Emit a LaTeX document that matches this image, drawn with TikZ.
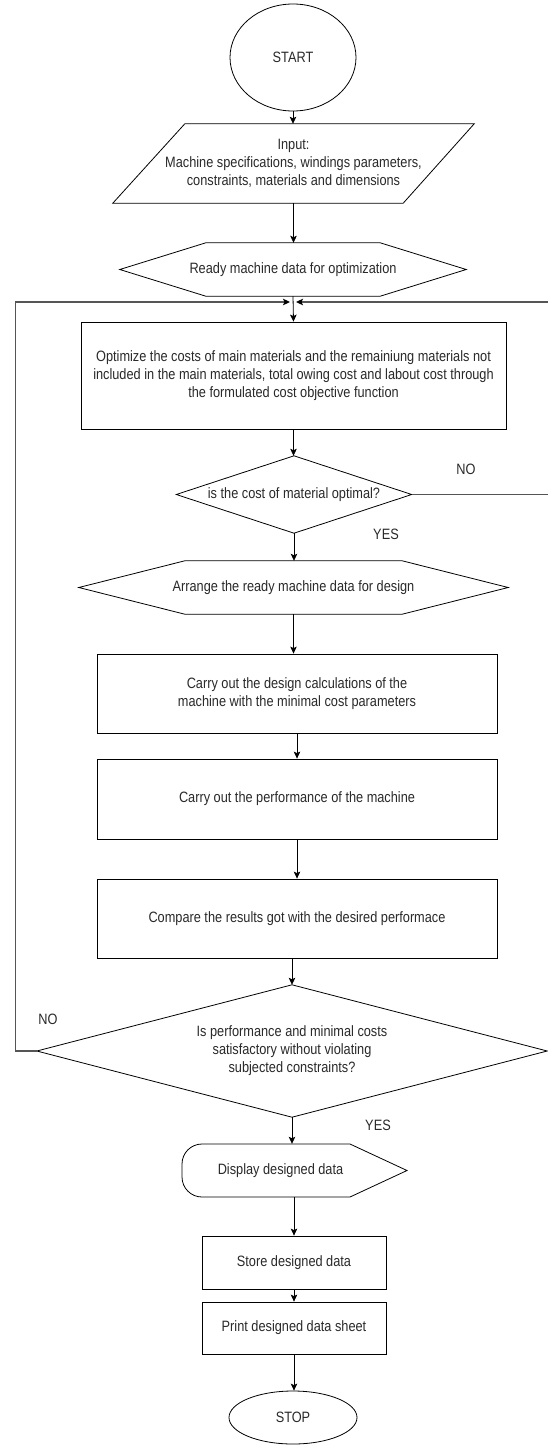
\documentclass[tikz,border=0pt]{standalone}
\usepackage{fontspec}
\setmainfont[FakeStretch=0.85]{Liberation Sans}
\usetikzlibrary{shapes.geometric,arrows.meta,calc}
\definecolor{txt}{HTML}{2A2A2A}
\definecolor{lp}{HTML}{555555}
\begin{document}
\begin{tikzpicture}[x=1pt,y=-1pt,
  every node/.style={font=\fontsize{15}{18}\selectfont, text=txt},
  box/.style={draw, rectangle, line width=0.8pt, inner sep=0pt, align=center},
  shp/.style={rectangle, inner sep=0pt, align=center},
  outl/.style={draw, line width=0.8pt},
  arr/.style={-{Stealth[length=7pt,width=6.5pt,inset=1.5pt]}, line width=0.8pt},
  looparr/.style={-{Stealth[length=7pt,width=6.5pt,inset=1.5pt,color=black]}, line width=1.3pt, draw=lp},
  lbl/.style={inner sep=0pt}]
\fill[white] (0,0) rectangle (547,1445);
\useasboundingbox (0,0) rectangle (547,1445);

% nodes
\node[ellipse, draw, line width=0.8pt, minimum width=126pt, minimum height=107pt, inner sep=0pt] (start) at (293,57.5) {START};
\node[shp, minimum width=361pt, minimum height=79pt] (inp) at (293.5,163.5) {Input:\\Machine specifications, windings parameters,\\constraints, materials and dimensions};
\draw[outl] ([xshift=72pt]inp.north west) -- (inp.north east) -- ([xshift=-71pt]inp.south east) -- (inp.south west) -- cycle;

\node[shp, minimum width=346pt, minimum height=53pt] (rdy) at (293,269.5) {Ready machine data for optimization};
\draw[outl] (rdy.west) -- ([xshift=86pt]rdy.north west) -- ([xshift=-86pt]rdy.north east) -- (rdy.east) -- ([xshift=-86pt]rdy.south east) -- ([xshift=86pt]rdy.south west) -- cycle;

\node[box, minimum width=425pt, minimum height=107pt] (opt) at (293.5,375.5) {Optimize the costs of main materials and the remainiung materials not\\included in the main materials, total owing cost and labout cost through\\the formulated cost objective function};

\node[shp, minimum width=235pt, minimum height=77pt] (d1) at (294,494.5) {is the cost of material optimal?};
\draw[outl] (d1.north) -- (d1.east) -- (d1.south) -- (d1.west) -- cycle;

\node[shp, minimum width=429pt, minimum height=53pt] (arrange) at (293.5,587.5) {Arrange the ready machine data for design};
\draw[outl] (arrange.west) -- ([xshift=106pt]arrange.north west) -- ([xshift=-106pt]arrange.north east) -- (arrange.east) -- ([xshift=-106pt]arrange.south east) -- ([xshift=106pt]arrange.south west) -- cycle;

\node[box, minimum width=400pt, minimum height=79pt] (des) at (297,693.5) {Carry out the design calculations of the\\machine with the minimal cost parameters};
\node[box, minimum width=400pt, minimum height=80pt] (perf) at (297,799) {Carry out the performance of the machine};
\node[box, minimum width=400pt, minimum height=79pt] (cmp) at (297,918.5) {Compare the results got with the desired performace};

\node[shp, minimum width=510pt, minimum height=132pt] (d2) at (292,1051) {Is performance and minimal costs\\satisfactory without violating\\subjected constraints?};
\draw[outl] (d2.north) -- (d2.east) -- (d2.south) -- (d2.west) -- cycle;

\node[shp, minimum height=53pt] (disp) at (280.5,1170.5) {Display designed data};
\draw[outl] ($(disp.center)+(69.5,-26.5)$) -- ($(disp.center)+(126.5,0)$) -- ($(disp.center)+(69.5,26.5)$) [rounded corners=20pt] -- ($(disp.center)+(-98.5,26.5)$) -- ($(disp.center)+(-98.5,-26.5)$) [sharp corners] -- cycle;

\node[box, minimum width=184pt, minimum height=53pt] (store) at (294,1262.5) {Store designed data};
\node[box, minimum width=184pt, minimum height=52pt] (print) at (294,1328) {Print designed data sheet};
\node[ellipse, draw, line width=0.8pt, minimum width=128pt, minimum height=53pt, inner sep=0pt] (stop) at (293,1417.5) {STOP};

% labels
\node[lbl] (no1) at (466,469) {NO};
\node[lbl] (yes1) at (386,534) {YES};
\node[lbl] (no2) at (48,1019) {NO};
\node[lbl] (yes2) at (378,1125) {YES};

% coordinates for loops
\coordinate (merge) at (293,302);
\coordinate (rc) at (549,302);
\coordinate (lc) at (15.5,302);

% connectors
\draw[arr] (start.south) -- (start.south |- inp.north);
\draw[arr] (inp.south) -- (inp.south |- rdy.north);
\draw[arr] (rdy.south) -- (opt.north);
\draw[arr] (opt.south) -- (opt.south |- d1.north);
\draw[arr] (d1.south) -- (d1.south |- arrange.north);
\draw[arr] (arrange.south) -- (arrange.south |- des.north);
\draw[arr] (des.south) -- (perf.north);
\draw[arr] (perf.south) -- (cmp.north);
\draw[arr] (d2.north |- cmp.south) -- (d2.north);
\draw[arr] (d2.south) -- (d2.south |- disp.north);
\draw[arr] (store.north |- disp.south) -- (store.north);
\draw[arr] (store.south) -- (print.north);
\draw[arr] (print.south) -- (print.south |- stop.north);
\draw[looparr] (d1.east) -| (rc) -- ([xshift=3pt]merge);
\draw[looparr] (d2.west) -| (lc) -- ([xshift=-3pt]merge);
\end{tikzpicture}
\end{document}
